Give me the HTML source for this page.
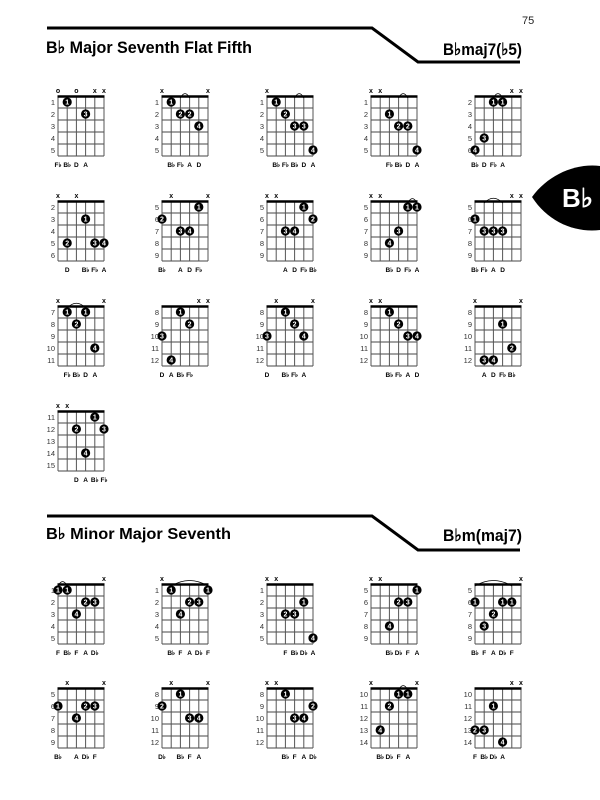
<!DOCTYPE html>
<html><head><meta charset="utf-8">
<style>
html,body{margin:0;padding:0;background:#fff;}
svg{display:block;}
text{font-family:"Liberation Sans",sans-serif;}
</style></head>
<body>
<svg id="s" width="600" height="800" viewBox="0 0 600 800" xmlns="http://www.w3.org/2000/svg">
<text x="522" y="24" font-size="11" fill="#222">75</text>
<polyline points="47,28 372,28 418,62 520,62" fill="none" stroke="#000" stroke-width="3"/>
<text x="46" y="53" font-size="17" font-weight="bold" textLength="206" lengthAdjust="spacingAndGlyphs">B♭ Major Seventh Flat Fifth</text>
<text x="443" y="55" font-size="17" font-weight="bold" textLength="79" lengthAdjust="spacingAndGlyphs">B♭maj7(♭5)</text>
<polyline points="47,516 372,516 418,550 520,550" fill="none" stroke="#000" stroke-width="3"/>
<text x="46" y="539" font-size="16" font-weight="bold" textLength="185" lengthAdjust="spacingAndGlyphs">B♭ Minor Major Seventh</text>
<text x="443" y="541" font-size="17" font-weight="bold" textLength="79" lengthAdjust="spacingAndGlyphs">B♭m(maj7)</text>
<path d="M532,197 C548,175 575,163 600,166 L600,230 C575,233 548,222 532,197 Z" fill="#000"/>
<text x="562" y="207" font-size="26" font-weight="bold" fill="#fff">B♭</text>
<g id="g"></g>
</svg>
<script>
var cols=[58,162,267,371,475];
var D=[
[0,96,1,{1:'o',3:'o',5:'x',6:'x'},[[2,1,1],[4,2,3]],[],[[1,'F♭'],[2,'B♭'],[3,'D'],[4,'A']]],
[1,96,1,{1:'x',6:'x'},[[2,1,1],[3,2,2],[4,2,2],[5,3,4]],[[3,4]],[[2,'B♭'],[3,'F♭'],[4,'A'],[5,'D']]],
[2,96,1,{1:'x'},[[2,1,1],[3,2,2],[4,3,3],[5,3,3],[6,5,4]],[[4,5]],[[2,'B♭'],[3,'F♭'],[4,'B♭'],[5,'D'],[6,'A']]],
[3,96,1,{1:'x',2:'x'},[[3,2,1],[4,3,2],[5,3,2],[6,5,4]],[[4,5]],[[3,'F♭'],[4,'B♭'],[5,'D'],[6,'A']]],
[4,96,2,{5:'x',6:'x'},[[3,2,1],[4,2,1],[2,5,3],[1,6,4]],[[3,4]],[[1,'B♭'],[2,'D'],[3,'F♭'],[4,'A']]],
[0,201,2,{1:'x',3:'x'},[[4,3,1],[2,5,2],[5,5,3],[6,5,4]],[],[[2,'D'],[4,'B♭'],[5,'F♭'],[6,'A']]],
[1,201,5,{2:'x',6:'x'},[[5,5,1],[1,6,2],[3,7,3],[4,7,4]],[],[[1,'B♭'],[3,'A'],[4,'D'],[5,'F♭']]],
[2,201,5,{1:'x',2:'x'},[[5,5,1],[6,6,2],[3,7,3],[4,7,4]],[],[[3,'A'],[4,'D'],[5,'F♭'],[6,'B♭']]],
[3,201,5,{1:'x',2:'x'},[[5,5,1],[6,5,1],[4,7,3],[3,8,4]],[[5,6]],[[3,'B♭'],[4,'D'],[5,'F♭'],[6,'A']]],
[4,201,5,{5:'x',6:'x'},[[1,6,1],[2,7,3],[3,7,3],[4,7,3]],[[2,4]],[[1,'B♭'],[2,'F♭'],[3,'A'],[4,'D']]],
[0,306,7,{1:'x',6:'x'},[[2,7,1],[4,7,1],[3,8,2],[5,10,4]],[[2,4]],[[2,'F♭'],[3,'B♭'],[4,'D'],[5,'A']]],
[1,306,8,{5:'x',6:'x'},[[3,8,1],[4,9,2],[1,10,3],[2,12,4]],[],[[1,'D'],[2,'A'],[3,'B♭'],[4,'F♭']]],
[2,306,8,{2:'x',6:'x'},[[3,8,1],[4,9,2],[1,10,3],[5,10,4]],[],[[1,'D'],[3,'B♭'],[4,'F♭'],[5,'A']]],
[3,306,8,{1:'x',2:'x'},[[3,8,1],[4,9,2],[5,10,3],[6,10,4]],[],[[3,'B♭'],[4,'F♭'],[5,'A'],[6,'D']]],
[4,306,8,{1:'x',6:'x'},[[4,9,1],[5,11,2],[2,12,3],[3,12,4]],[],[[2,'A'],[3,'D'],[4,'F♭'],[5,'B♭']]],
[0,411,11,{1:'x',2:'x'},[[5,11,1],[3,12,2],[6,12,3],[4,14,4]],[],[[3,'D'],[4,'A'],[5,'B♭'],[6,'F♭']]],
[0,584,1,{6:'x'},[[1,1,1],[2,1,1],[4,2,2],[5,2,3],[3,3,4]],[[1,2]],[[1,'F'],[2,'B♭'],[3,'F'],[4,'A'],[5,'D♭']]],
[1,584,1,{1:'x'},[[2,1,1],[6,1,1],[4,2,2],[5,2,3],[3,3,4]],[[2,6]],[[2,'B♭'],[3,'F'],[4,'A'],[5,'D♭'],[6,'F']]],
[2,584,1,{1:'x',2:'x'},[[5,2,1],[3,3,2],[4,3,3],[6,5,4]],[],[[3,'F'],[4,'B♭'],[5,'D♭'],[6,'A']]],
[3,584,5,{1:'x',2:'x'},[[6,5,1],[4,6,2],[5,6,3],[3,8,4]],[],[[3,'B♭'],[4,'D♭'],[5,'F'],[6,'A']]],
[4,584,5,{6:'x'},[[1,6,1],[4,6,1],[5,6,1],[3,7,2],[2,8,3]],[[1,5]],[[1,'B♭'],[2,'F'],[3,'A'],[4,'D♭'],[5,'F']]],
[0,688,5,{2:'x',6:'x'},[[1,6,1],[4,6,2],[5,6,3],[3,7,4]],[],[[1,'B♭'],[3,'A'],[4,'D♭'],[5,'F']]],
[1,688,8,{2:'x',6:'x'},[[3,8,1],[1,9,2],[4,10,3],[5,10,4]],[],[[1,'D♭'],[3,'B♭'],[4,'F'],[5,'A']]],
[2,688,8,{1:'x',2:'x'},[[3,8,1],[6,9,2],[4,10,3],[5,10,4]],[],[[3,'B♭'],[4,'F'],[5,'A'],[6,'D♭']]],
[3,688,10,{1:'x',6:'x'},[[4,10,1],[5,10,1],[3,11,2],[2,13,4]],[[4,5]],[[2,'B♭'],[3,'D♭'],[4,'F'],[5,'A']]],
[4,688,10,{5:'x',6:'x'},[[3,11,1],[1,13,2],[2,13,3],[4,14,4]],[],[[1,'F'],[2,'B♭'],[3,'D♭'],[4,'A']]]
];
var sp=9.2,fh=12,h='';
D.forEach(function(d){
 var x0=cols[d[0]],y0=d[1],st=d[2],i;
 for(i=1;i<6;i++)h+='<line x1="'+x0+'" x2="'+(x0+46)+'" y1="'+(y0+i*fh)+'" y2="'+(y0+i*fh)+'" stroke="#444" stroke-width="0.9"/>';
 for(i=0;i<6;i++)h+='<line x1="'+(x0+i*sp)+'" x2="'+(x0+i*sp)+'" y1="'+y0+'" y2="'+(y0+60)+'" stroke="#555" stroke-width="1"/>';
 h+='<line x1="'+(x0-0.5)+'" x2="'+(x0+46.5)+'" y1="'+(y0+0.5)+'" y2="'+(y0+0.5)+'" stroke="#000" stroke-width="2.6"/>';
 for(i=0;i<5;i++)h+='<text x="'+(x0-3)+'" y="'+(y0+i*fh+9)+'" font-size="7.5" text-anchor="end" fill="#333">'+(st+i)+'</text>';
 for(var k in d[3])h+='<text x="'+(x0+(k-1)*sp)+'" y="'+(y0-3)+'" font-size="7" font-weight="bold" text-anchor="middle">'+d[3][k]+'</text>';
 d[5].forEach(function(a){var xa=x0+(a[0]-1)*sp,xb=x0+(a[1]-1)*sp;h+='<path d="M'+xa+','+(y0+2)+' Q'+((xa+xb)/2)+','+(y0-6-(xb-xa)*0.08)+' '+xb+','+(y0+2)+'" fill="none" stroke="#000" stroke-width="0.8"/>';});
 d[4].forEach(function(p){var cx=x0+(p[0]-1)*sp,cy=y0+(p[1]-st+0.5)*fh;h+='<circle cx="'+cx+'" cy="'+cy+'" r="4.6" fill="#000"/><text x="'+cx+'" y="'+(cy+2.6)+'" font-size="7" font-weight="bold" fill="#fff" text-anchor="middle">'+p[2]+'</text>';});
 d[6].forEach(function(l){h+='<text x="'+(x0+(l[0]-1)*sp)+'" y="'+(y0+71)+'" font-size="6.5" font-weight="bold" text-anchor="middle">'+l[1]+'</text>';});
});
document.getElementById('g').innerHTML=h;
</script>
</body></html>
